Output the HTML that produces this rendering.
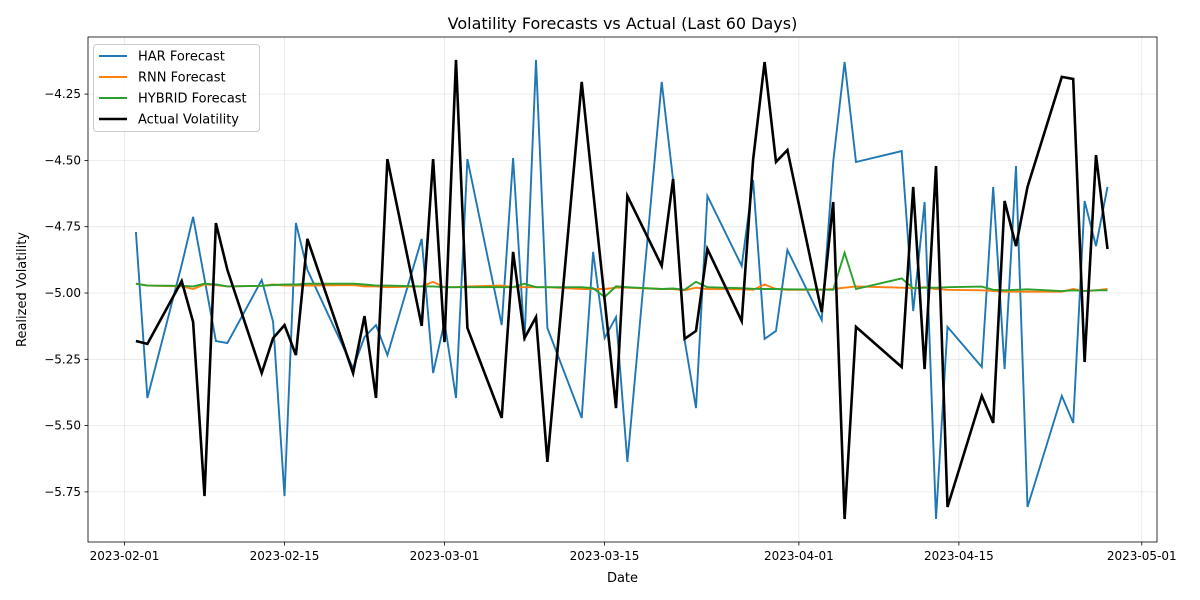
<!DOCTYPE html>
<html><head><meta charset="utf-8"><style>
body{margin:0;background:#fff}
svg{display:block;font-family:"DejaVu Sans","Liberation Sans",sans-serif}
</style></head><body>
<svg id="chart" width="1200" height="600"></svg>
<script>
const dates=["2023-02-02","2023-02-03","2023-02-06","2023-02-07","2023-02-08","2023-02-09","2023-02-10","2023-02-13","2023-02-14","2023-02-15","2023-02-16","2023-02-17","2023-02-21","2023-02-22","2023-02-23","2023-02-24","2023-02-27","2023-02-28","2023-03-01","2023-03-02","2023-03-03","2023-03-06","2023-03-07","2023-03-08","2023-03-09","2023-03-10","2023-03-13","2023-03-14","2023-03-15","2023-03-16","2023-03-17","2023-03-20","2023-03-21","2023-03-22","2023-03-23","2023-03-24","2023-03-27","2023-03-28","2023-03-29","2023-03-30","2023-03-31","2023-04-03","2023-04-04","2023-04-05","2023-04-06","2023-04-10","2023-04-11","2023-04-12","2023-04-13","2023-04-14","2023-04-17","2023-04-18","2023-04-19","2023-04-20","2023-04-21","2023-04-24","2023-04-25","2023-04-26","2023-04-27","2023-04-28"];
const actual=[-5.181,-5.192,-4.955,-5.109,-5.766,-4.736,-4.913,-5.302,-5.170,-5.121,-5.234,-4.796,-5.302,-5.087,-5.396,-4.495,-5.124,-4.495,-5.185,-4.121,-5.132,-5.471,-4.845,-5.170,-5.091,-5.637,-4.204,-4.615,-5.023,-5.434,-4.634,-4.898,-4.570,-5.173,-5.143,-4.834,-5.106,-4.498,-4.129,-4.506,-4.461,-5.072,-4.657,-5.852,-5.128,-5.279,-4.600,-5.287,-4.521,-5.807,-5.388,-5.490,-4.653,-4.823,-4.600,-4.185,-4.193,-5.260,-4.480,-4.834];
const har=[-4.770,-5.396,-4.894,-4.713,-4.947,-5.181,-5.189,-4.951,-5.109,-5.766,-4.736,-4.913,-5.283,-5.166,-5.121,-5.234,-4.796,-5.302,-5.109,-5.396,-4.495,-5.121,-4.491,-5.181,-4.121,-5.132,-5.471,-4.845,-5.170,-5.091,-5.637,-4.204,-4.574,-5.177,-5.434,-4.634,-4.898,-4.574,-5.173,-5.143,-4.838,-5.102,-4.506,-4.129,-4.506,-4.465,-5.068,-4.657,-5.852,-5.128,-5.279,-4.600,-5.287,-4.521,-5.807,-5.388,-5.490,-4.653,-4.823,-4.600];
const rnn=[-4.965,-4.972,-4.975,-4.985,-4.968,-4.97,-4.975,-4.973,-4.968,-4.972,-4.972,-4.972,-4.970,-4.975,-4.975,-4.978,-4.975,-4.958,-4.978,-4.978,-4.975,-4.972,-4.978,-4.978,-4.978,-4.978,-4.985,-4.985,-4.985,-4.980,-4.980,-4.985,-4.985,-4.990,-4.980,-4.985,-4.986,-4.988,-4.968,-4.985,-4.988,-4.988,-4.985,-4.980,-4.975,-4.980,-4.982,-4.978,-4.985,-4.988,-4.990,-4.992,-4.995,-4.995,-4.995,-4.995,-4.985,-4.993,-4.990,-4.985];
const hybrid=[-4.965,-4.972,-4.973,-4.975,-4.965,-4.968,-4.975,-4.973,-4.970,-4.968,-4.968,-4.965,-4.965,-4.968,-4.972,-4.972,-4.975,-4.975,-4.978,-4.978,-4.978,-4.978,-4.978,-4.965,-4.978,-4.978,-4.978,-4.982,-5.015,-4.975,-4.978,-4.985,-4.983,-4.988,-4.958,-4.978,-4.982,-4.984,-4.985,-4.985,-4.986,-4.987,-4.988,-4.848,-4.985,-4.945,-4.982,-4.980,-4.980,-4.978,-4.976,-4.988,-4.990,-4.988,-4.986,-4.993,-4.990,-4.992,-4.990,-4.990];
const yTicks=[-4.25,-4.50,-4.75,-5.00,-5.25,-5.50,-5.75];
const xTicks=["2023-02-01","2023-02-15","2023-03-01","2023-03-15","2023-04-01","2023-04-15","2023-05-01"];

const NS="http://www.w3.org/2000/svg";
const svg=document.getElementById('chart');
const L=88,R=1157,T=37,B=542;
const t0=Date.UTC(2023,1,1);
function xs(d){const p=d.split('-');const t=Date.UTC(+p[0],+p[1]-1,+p[2]);return 124.5+(t-t0)/86400000*11.43;}
function ys(v){return 293-(v+5)*265.2;}
function mk(tag,attrs,parent){const e=document.createElementNS(NS,tag);for(const k in attrs)e.setAttribute(k,attrs[k]);(parent||svg).appendChild(e);return e;}

const grid=mk('g',{});


yTicks.forEach(v=>{const y=ys(v);
 const l=mk('line',{x1:L,x2:R,y1:y,y2:y,stroke:'#b0b0b0','stroke-opacity':0.3,'stroke-width':0.8},grid);
 
 const tk=mk('line',{x1:L-3.5,x2:L,y1:y,y2:y,stroke:'#000','stroke-width':0.8});
 
 const tx=mk('text',{x:L-7,y:y+4,'text-anchor':'end','font-size':12,fill:'#000'});
 tx.textContent=v.toFixed(2).replace('-','\u2212');
 
});
xTicks.forEach(d=>{const x=xs(d);
 const l=mk('line',{x1:x,x2:x,y1:T,y2:B,stroke:'#b0b0b0','stroke-opacity':0.3,'stroke-width':0.8},grid);
 
 const tk=mk('line',{x1:x,x2:x,y1:B,y2:B+3.5,stroke:'#000','stroke-width':0.8});
 
 const tx=mk('text',{x:x,y:B+18,'text-anchor':'middle','font-size':12,fill:'#000'});
 tx.textContent=d;
 
});

const series=[[har,'#1f77b4',1.9,'har-forecast-line'],[rnn,'#ff7f0e',1.9,'rnn-forecast-line'],[hybrid,'#2ca02c',1.9,'hybrid-forecast-line'],[actual,'#000000',2.6,'actual-volatility-line']];
series.forEach(s=>{
 const pts=dates.map((d,i)=>xs(d).toFixed(1)+','+ys(s[0][i]).toFixed(1)).join(' ');
 const p=mk('polyline',{points:pts,fill:'none',stroke:s[1],'stroke-width':s[2],'stroke-linejoin':'miter'});
 
 
});

const frame=mk('rect',{x:L,y:T,width:R-L,height:B-T,fill:'none',stroke:'#000','stroke-width':0.8});



const title=mk('text',{x:(L+R)/2,y:29,'text-anchor':'middle','font-size':16,fill:'#000'});
title.textContent='Volatility Forecasts vs Actual (Last 60 Days)';

const xt=mk('text',{x:(L+R)/2,y:582,'text-anchor':'middle','font-size':13,fill:'#000'});
xt.textContent='Date';

const yt=mk('text',{x:0,y:0,'text-anchor':'middle','font-size':13,fill:'#000',transform:'translate(26,'+((T+B)/2)+') rotate(-90)'});
yt.textContent='Realized Volatility';


const lg=mk('g',{});

mk('rect',{x:93.5,y:44.5,width:166,height:87,rx:3,fill:'#fff','fill-opacity':0.8,stroke:'#ccc','stroke-width':1},lg);
const labels=['HAR Forecast','RNN Forecast','HYBRID Forecast','Actual Volatility'];
labels.forEach((lb,i)=>{const y=56+i*21;
 const ent=mk('g',{},lg);
 
 mk('line',{x1:99,x2:127,y1:y,y2:y,stroke:series[i][1],'stroke-width':series[i][2]},ent);
 const t=mk('text',{x:138,y:y+4.5,'font-size':13,fill:'#000'},ent);t.textContent=lb;
});
</script>
</body></html>
